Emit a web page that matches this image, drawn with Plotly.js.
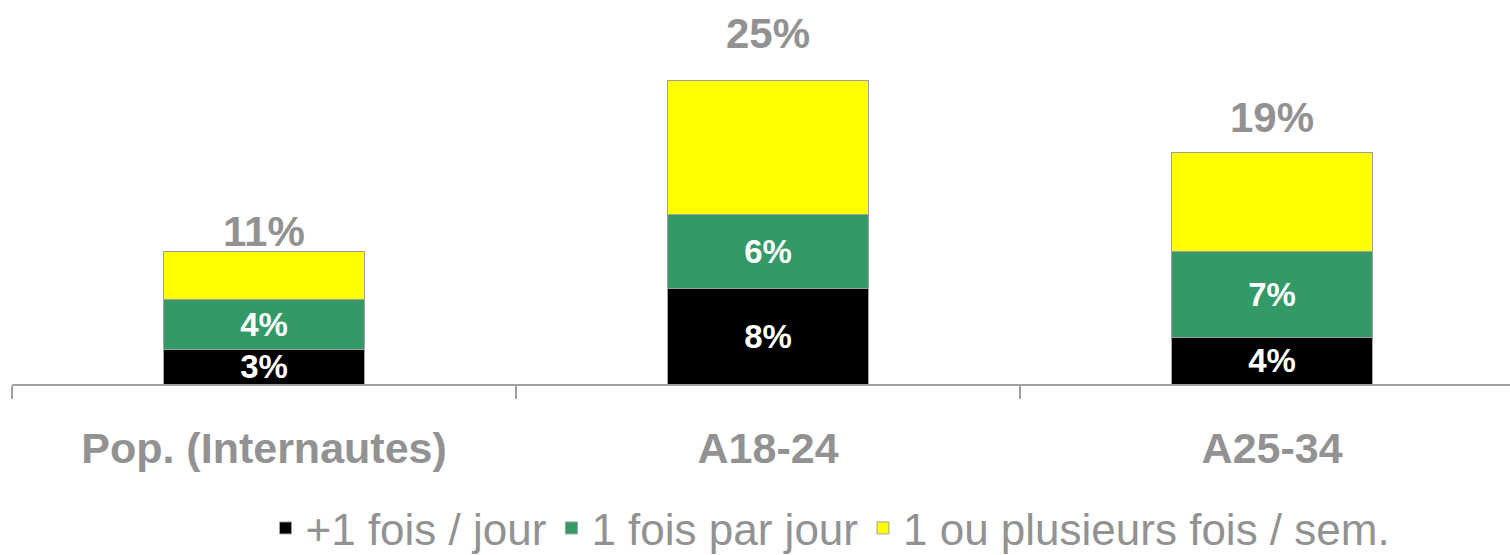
<!DOCTYPE html>
<html>
<head>
<meta charset="utf-8">
<script src="https://cdn.plot.ly/plotly-3.0.1.min.js"></script>
<style>
  html, body { margin: 0; padding: 0; background: #ffffff; }
  #chart { width: 1510px; height: 555px; }
</style>
</head>
<body>
<div id="chart"></div>
<script>
// Data (percent)
const categories = ["Pop. (Internautes)", "A18-24", "A25-34"];
const seriesNames = ["+1 fois / jour", "1 fois par jour", "1 ou plusieurs fois / sem."];
const plusOneDaily = [2.9, 7.9, 3.9];
const oncePerDay = [4.1, 6.2, 7.1];
const weekly = [4.0, 11.1, 8.2];
const totalLabels = ["11%", "25%", "19%"];
const segmentLabelsBlack = ["3%", "8%", "4%"];
const segmentLabelsGreen = ["4%", "6%", "7%"];

const colors = ["#000000", "#339966", "#FFFF00"];
const FONT = "Liberation Sans, Arial, sans-serif";
const GRAY = "#929292";
const OUTLINE = "#a0a0a0";

function barTrace(name, values, color, labels) {
  const t = {
    type: "bar",
    name: name,
    x: categories,
    y: values,
    width: 0.4,
    marker: { color: color, line: { color: OUTLINE, width: 1 } },
    hoverinfo: "skip",
    cliponaxis: false
  };
  if (labels) {
    t.text = labels;
    t.textposition = "inside";
    t.insidetextanchor = "middle";
    t.constraintext = "none";
    t.textangle = 0;
    t.textfont = { family: FONT, size: 33, color: "#ffffff", weight: "bold" };
  } else {
    t.textposition = "none";
  }
  return t;
}

const traces = [
  barTrace(seriesNames[0], plusOneDaily, colors[0], segmentLabelsBlack),
  barTrace(seriesNames[1], oncePerDay, colors[1], segmentLabelsGreen),
  barTrace(seriesNames[2], weekly, colors[2], null)
];

const totals = categories.map((c, i) => plusOneDaily[i] + oncePerDay[i] + weekly[i]);
const annotations = categories.map((c, i) => ({
  x: c,
  y: totals[i] * 1.155,
  xref: "x",
  yref: "y",
  text: totalLabels[i],
  showarrow: false,
  font: { family: FONT, size: 42, color: GRAY, weight: "bold" },
  xanchor: "center",
  yanchor: "middle"
}));

const layout = {
  width: 1510,
  height: 555,
  margin: { l: 12, r: 0, t: 0, b: 171 },
  paper_bgcolor: "#ffffff",
  plot_bgcolor: "#ffffff",
  barmode: "stack",
  showlegend: true,
  font: { family: FONT, color: GRAY },
  xaxis: {
    type: "category",
    range: [-0.5, 2.472],
    showline: true,
    linecolor: OUTLINE,
    linewidth: 2,
    ticks: "outside",
    tickson: "boundaries",
    ticklen: 13,
    tickwidth: 2,
    tickcolor: OUTLINE,
    showgrid: false,
    zeroline: false,
    tickfont: { family: FONT, size: 43, color: GRAY, weight: "bold" },
    ticklabelstandoff: 25,
    fixedrange: true
  },
  yaxis: {
    range: [0, 31.9],
    visible: false,
    showgrid: false,
    zeroline: false,
    fixedrange: true
  },
  legend: {
    orientation: "h",
    xref: "container",
    yref: "container",
    x: 0.55,
    y: 0.048,
    xanchor: "center",
    yanchor: "middle",
    font: { family: FONT, size: 44, color: GRAY },
    traceorder: "normal",
    itemclick: false,
    itemdoubleclick: false
  },
  annotations: annotations
};

Plotly.newPlot("chart", traces, layout, { displayModeBar: false, staticPlot: true });
</script>
</body>
</html>
